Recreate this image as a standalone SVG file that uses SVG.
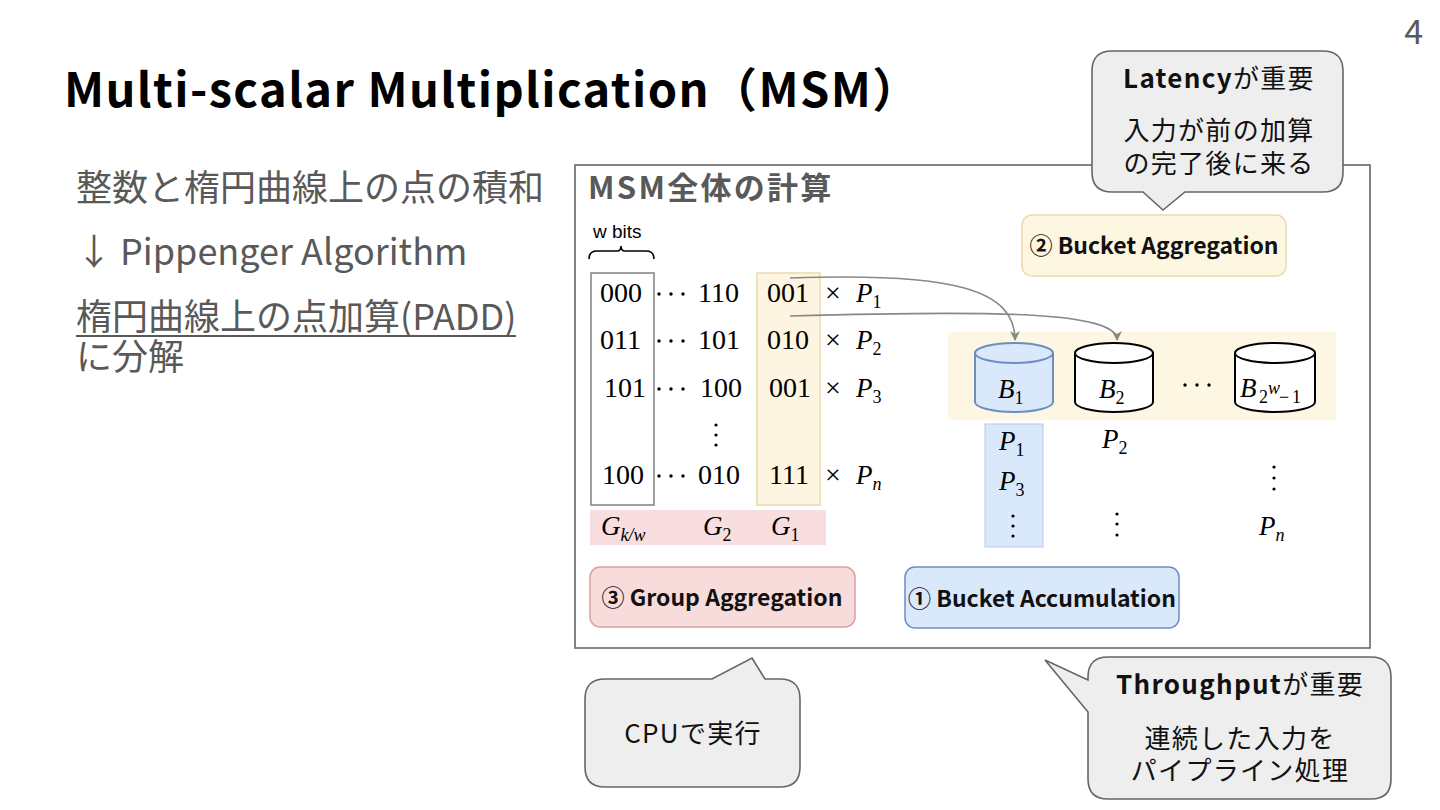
<svg xmlns="http://www.w3.org/2000/svg" width="1440" height="810" viewBox="0 0 1440 810">
<defs>
<style>
.jp{font-family:"Noto Sans CJK JP","Noto Sans",sans-serif}
.b{font-weight:bold}
.gray{fill:#595959}
.m{font-family:"Liberation Serif",serif;font-size:28px;fill:#000}
.mi{font-family:"Liberation Serif",serif;font-style:italic;font-size:27px;fill:#000}
.sub{font-family:"Liberation Serif",serif;font-size:18px}
.up{font-style:normal}
.it{font-style:italic}
.callout{fill:#eeeeee;stroke:#666;stroke-width:1.6}
.ct{font-family:"Noto Sans CJK JP","Noto Sans",sans-serif;font-size:26px;fill:#111;text-anchor:middle;letter-spacing:1.3px}
.stage{font-family:"Noto Sans CJK JP","Noto Sans",sans-serif;font-weight:bold;font-size:23px;fill:#111;text-anchor:middle}
.conn{fill:none;stroke:#888;stroke-width:1.6}
.dot{fill:#000}
</style>
<marker id="arr" viewBox="0 0 10 10" refX="9" refY="5" markerWidth="10" markerHeight="10" markerUnits="userSpaceOnUse" orient="auto">
<path d="M0,0 L10,5 L0,10 L3,5 Z" fill="#888"/>
</marker>
</defs>
<rect width="1440" height="810" fill="#fff"/>

<text x="1423" y="44" class="jp gray" font-size="34" text-anchor="end">4</text>
<text x="64" y="107" class="jp b" font-size="47" letter-spacing="1.4" fill="#000">Multi-scalar Multiplication（MSM）</text>

<g id="left-text" class="jp gray" font-size="36">
<text x="76" y="201">整数と楕円曲線上の点の積和</text>
<text x="76" y="265">↓ Pippenger Algorithm</text>
<text x="76" y="330">楕円曲線上の点加算(PADD)</text>
<line x1="76" y1="336" x2="516" y2="336" stroke="#595959" stroke-width="2"/>
<text x="76" y="370">に分解</text>
</g>

<g id="msm-box">
<rect x="575" y="165" width="795" height="483" fill="#fff" stroke="#666" stroke-width="1.6"/>
<text x="588" y="199" class="jp b gray" font-size="31" letter-spacing="2.3">MSM全体の計算</text>
</g>

<g id="wbits">
<text x="593" y="238" font-family="Liberation Sans,sans-serif" font-size="19" fill="#000">w bits</text>
<path d="M589,259 Q589,251 597,251 L617,251 Q621,251 621,246 Q621,251 625,251 L646,251 Q654,251 654,259" fill="none" stroke="#000" stroke-width="1.6"/>
</g>

<g id="matrix">
<rect x="757" y="273" width="63" height="232" fill="#fdf5e2" stroke="#e8dcaa" stroke-width="1.5"/>
<rect x="591" y="273" width="63" height="232" fill="none" stroke="#888" stroke-width="1.6"/>
<g class="m">
<text x="600" y="302">000</text><text x="698" y="302">110</text><text x="767" y="302">001</text><text x="825" y="302">×</text>
<text x="600" y="349">011</text><text x="698" y="349">101</text><text x="767" y="349">010</text><text x="825" y="349">×</text>
<text x="604" y="397">101</text><text x="700" y="397">100</text><text x="769" y="397">001</text><text x="825" y="397">×</text>
<text x="602" y="484">100</text><text x="698" y="484">010</text><text x="769" y="484">111</text><text x="825" y="484">×</text>
</g>
<g class="dot">
<circle cx="659" cy="294" r="1.7"/><circle cx="671" cy="294" r="1.7"/><circle cx="683" cy="294" r="1.7"/>
<circle cx="659" cy="341" r="1.7"/><circle cx="671" cy="341" r="1.7"/><circle cx="683" cy="341" r="1.7"/>
<circle cx="659" cy="389" r="1.7"/><circle cx="671" cy="389" r="1.7"/><circle cx="683" cy="389" r="1.7"/>
<circle cx="659" cy="476" r="1.7"/><circle cx="671" cy="476" r="1.7"/><circle cx="683" cy="476" r="1.7"/>
<circle cx="716" cy="425" r="1.6"/><circle cx="716" cy="435" r="1.6"/><circle cx="716" cy="445" r="1.6"/>
</g>
<g class="mi">
<text x="856" y="302">P<tspan class="sub up" dy="6">1</tspan></text>
<text x="856" y="349">P<tspan class="sub up" dy="6">2</tspan></text>
<text x="856" y="397">P<tspan class="sub up" dy="6">3</tspan></text>
<text x="856" y="484">P<tspan class="sub it" dy="6">n</tspan></text>
</g>
</g>

<g id="groups">
<rect x="590" y="510" width="236" height="35" fill="#f8dede"/>
<g class="mi">
<text x="601" y="535">G<tspan class="sub it" dy="6">k/w</tspan></text>
<text x="703" y="535">G<tspan class="sub up" dy="6">2</tspan></text>
<text x="771" y="535">G<tspan class="sub up" dy="6">1</tspan></text>
</g>
</g>

<g id="group-aggregation">
<rect x="590" y="567" width="265" height="60" rx="10" fill="#f8dcdc" stroke="#d9a0a0" stroke-width="1.5"/>
<text x="722" y="606" class="stage">③ Group Aggregation</text>
</g>

<g id="bucket-aggregation">
<rect x="1022" y="215" width="264" height="61" rx="10" fill="#fdf6e0" stroke="#e8dcaa" stroke-width="1.5"/>
<text x="1154" y="254" class="stage">② Bucket Aggregation</text>
</g>

<g id="bucket-accumulation">
<rect x="905" y="567" width="274" height="61" rx="10" fill="#dae8fc" stroke="#6c8ebf" stroke-width="1.5"/>
<text x="1042" y="607" class="stage">① Bucket Accumulation</text>
</g>

<g id="buckets">
<rect x="948" y="332" width="388" height="88" fill="#fdf6e3"/>
<g id="b1">
<path d="M975,353 A39,10 0 0 1 1053,353 V402 A39,10 0 0 1 975,402 Z" fill="#dae8fc" stroke="#6c8ebf" stroke-width="2"/>
<path d="M975,353 A39,10 0 0 0 1053,353" fill="none" stroke="#6c8ebf" stroke-width="2"/>
<text x="998" y="398" class="mi">B<tspan class="sub up" dy="6">1</tspan></text>
</g>
<g id="b2">
<path d="M1075,353 A39,10 0 0 1 1153,353 V402 A39,10 0 0 1 1075,402 Z" fill="#fff" stroke="#000" stroke-width="2"/>
<path d="M1075,353 A39,10 0 0 0 1153,353" fill="none" stroke="#000" stroke-width="2"/>
<text x="1099" y="398" class="mi">B<tspan class="sub up" dy="6">2</tspan></text>
</g>
<g class="dot"><circle cx="1185" cy="385" r="1.7"/><circle cx="1197" cy="385" r="1.7"/><circle cx="1209" cy="385" r="1.7"/></g>
<g id="bn">
<path d="M1235,353 A40,10 0 0 1 1315,353 V402 A40,10 0 0 1 1235,402 Z" fill="#fff" stroke="#000" stroke-width="2"/>
<path d="M1235,353 A40,10 0 0 0 1315,353" fill="none" stroke="#000" stroke-width="2"/>
<text x="1240" y="397" class="mi" font-size="28">B</text>
<text x="1259" y="403" class="sub" fill="#000">2</text>
<text x="1268" y="394" class="sub it" font-size="14" fill="#000">w</text>
<text x="1279" y="403" class="sub" fill="#000">−</text>
<text x="1292" y="403" class="sub" fill="#000">1</text>
</g>
</g>

<g id="bucket-points">
<rect x="985" y="424" width="58" height="123" fill="#dae8fc" stroke="#b8c9e0" stroke-width="1"/>
<g class="mi">
<text x="999" y="450">P<tspan class="sub up" dy="6">1</tspan></text>
<text x="999" y="490">P<tspan class="sub up" dy="6">3</tspan></text>
<text x="1102" y="448">P<tspan class="sub up" dy="6">2</tspan></text>
<text x="1259" y="535">P<tspan class="sub it" dy="6">n</tspan></text>
</g>
<g class="dot">
<circle cx="1013" cy="516" r="1.6"/><circle cx="1013" cy="526" r="1.6"/><circle cx="1013" cy="536" r="1.6"/>
<circle cx="1117" cy="514" r="1.6"/><circle cx="1117" cy="524" r="1.6"/><circle cx="1117" cy="535" r="1.6"/>
<circle cx="1274" cy="467" r="1.6"/><circle cx="1274" cy="478" r="1.6"/><circle cx="1274" cy="489" r="1.6"/>
</g>
</g>

<g id="connectors">
<path class="conn" d="M790,278 C955,272 1015,290 1015,340" marker-end="url(#arr)"/>
<path class="conn" d="M790,316 C1000,310 1117,312 1117,340" marker-end="url(#arr)"/>
</g>

<g id="latency-callout">
<path class="callout" d="M1112,51 H1323 Q1343,51 1343,71 V172 Q1343,192 1323,192 H1185 L1163,210 L1143,192 H1112 Q1092,192 1092,172 V71 Q1092,51 1112,51 Z"/>
<text x="1219" y="88" class="ct"><tspan font-weight="bold">Latency</tspan>が重要</text>
<text x="1219" y="140" class="ct">入力が前の加算</text>
<text x="1219" y="173" class="ct">の完了後に来る</text>
</g>

<g id="cpu-callout">
<path class="callout" d="M605,679 H712 L752,658 L765,679 H780 Q800,679 800,699 V767 Q800,787 780,787 H605 Q585,787 585,767 V699 Q585,679 605,679 Z"/>
<text x="693" y="743" class="ct" font-size="27" letter-spacing="1">CPUで実行</text>
</g>

<g id="throughput-callout">
<path class="callout" d="M1108,657 H1371 Q1391,657 1391,677 V779 Q1391,799 1371,799 H1108 Q1088,799 1088,779 V712 L1045,660 L1088,680 V677 Q1088,657 1108,657 Z"/>
<text x="1240" y="694" class="ct"><tspan font-weight="bold">Throughput</tspan>が重要</text>
<text x="1240" y="748" class="ct">連続した入力を</text>
<text x="1240" y="780" class="ct">パイプライン処理</text>
</g>
</svg>
